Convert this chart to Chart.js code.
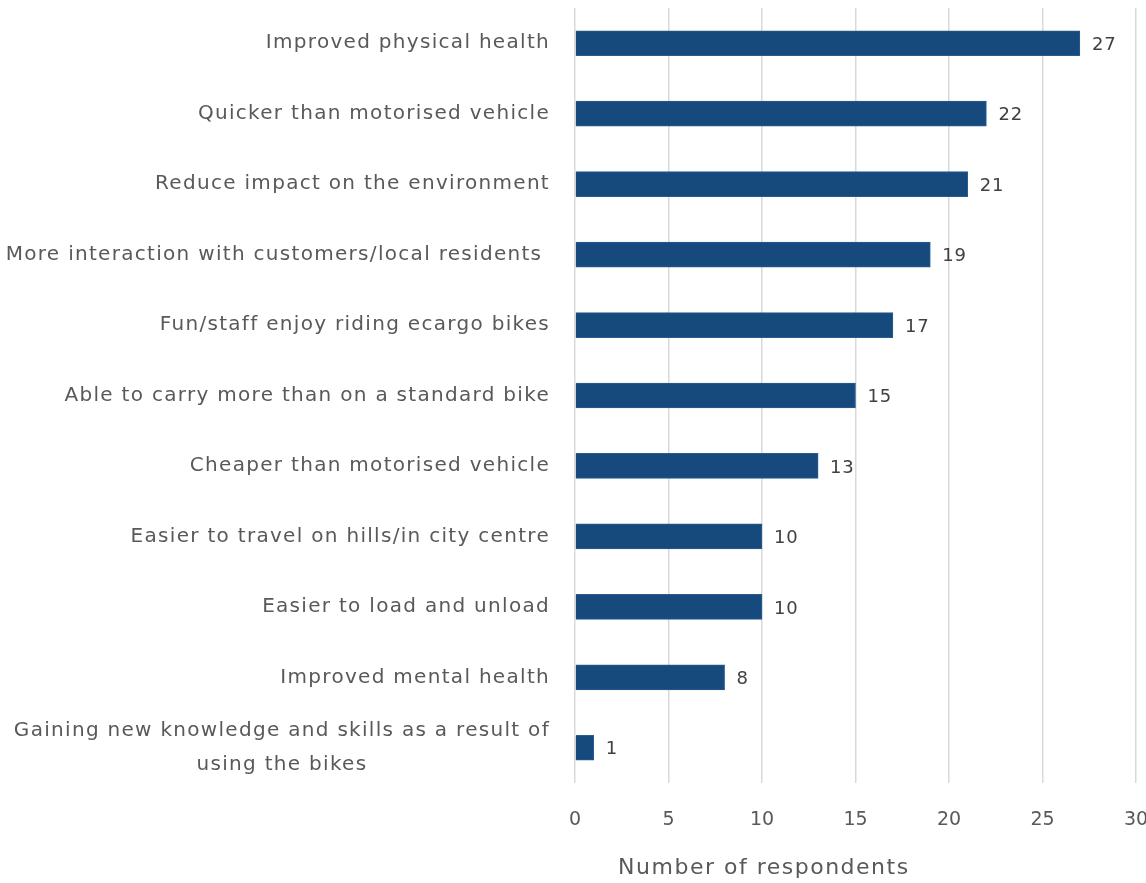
<!DOCTYPE html>
<html>
<head>
<meta charset="utf-8">
<script src="https://cdn.jsdelivr.net/npm/chart.js@4/dist/chart.umd.min.js"></script>
<style>
  html, body { margin: 0; padding: 0; background: #ffffff; overflow: hidden; }
  #wrap { width: 1146px; height: 883px; position: relative; }
</style>
</head>
<body>
<div id="wrap"><canvas id="chart"></canvas></div>
<script>
// Reported benefits of using e-cargo bikes
const categories = [
  'Improved physical health',
  'Quicker than motorised vehicle',
  'Reduce impact on the environment',
  'More interaction with customers/local residents ',
  'Fun/staff enjoy riding ecargo bikes',
  'Able to carry more than on a standard bike',
  'Cheaper than motorised vehicle',
  'Easier to travel on hills/in city centre',
  'Easier to load and unload',
  'Improved mental health',
  ['Gaining new knowledge and skills as a result of', 'using the bikes']
];
const respondents = [27, 22, 21, 19, 17, 15, 13, 10, 10, 8, 1];
const xTicks = [0, 5, 10, 15, 20, 25, 30];
const axisTitle = 'Number of respondents';

const FONT = '"DejaVu Sans", "Open Sans", sans-serif';
const TEXT = '#595959';

// Category labels: single lines right-aligned, wrapped lines centred on each other
const categoryLabels = {
  id: 'categoryLabels',
  afterDraw(chart) {
    const ctx = chart.ctx;
    const y = chart.scales.y;
    const right = chart.chartArea.left - 25;
    ctx.save();
    ctx.font = '20px ' + FONT;
    ctx.letterSpacing = '1.3px';
    ctx.fillStyle = TEXT;
    ctx.textBaseline = 'middle';
    categories.forEach((lab, i) => {
      const cy = y.getPixelForValue(i);
      if (Array.isArray(lab)) {
        const widths = lab.map(t => ctx.measureText(t).width);
        const maxW = Math.max(...widths);
        const cx = right - maxW / 2;
        const lh = 34;
        ctx.textAlign = 'center';
        lab.forEach((t, k) => {
          ctx.fillText(t, cx, cy + (k - (lab.length - 1) / 2) * lh);
        });
      } else {
        ctx.textAlign = 'right';
        ctx.fillText(lab, right, cy);
      }
    });
    ctx.restore();
  }
};

// Value labels at the end of each bar, plus the axis title
const valueLabels = {
  id: 'valueLabels',
  afterDatasetsDraw(chart) {
    const ctx = chart.ctx;
    const meta = chart.getDatasetMeta(0);
    ctx.save();
    ctx.font = '18px ' + FONT;
    ctx.letterSpacing = '0.8px';
    ctx.fillStyle = '#404040';
    ctx.textAlign = 'left';
    ctx.textBaseline = 'middle';
    meta.data.forEach((bar, i) => {
      ctx.fillText(String(respondents[i]), bar.x + 12, bar.y + 2);
    });
    ctx.font = '22px ' + FONT;
    ctx.letterSpacing = '1.5px';
    ctx.fillStyle = TEXT;
    ctx.textAlign = 'center';
    const xs = chart.scales.x;
    ctx.fillText(axisTitle, xs.getPixelForValue(10.1), chart.chartArea.bottom + 85);
    ctx.restore();
  }
};

new Chart(document.getElementById('chart'), {
  type: 'bar',
  data: {
    labels: categories,
    datasets: [{
      data: respondents,
      backgroundColor: '#174a7c',
      borderColor: '#2a5d8f',
      borderWidth: 1,
      barThickness: 25
    }]
  },
  options: {
    indexAxis: 'y',
    responsive: true,
    maintainAspectRatio: false,
    animation: false,
    layout: { padding: { top: 8, right: 10, left: 0, bottom: 0 } },
    plugins: {
      legend: { display: false },
      tooltip: { enabled: false }
    },
    scales: {
      x: {
        min: 0,
        max: 30,
        afterBuildTicks(scale) { scale.ticks = xTicks.map(v => ({ value: v })); },
        afterFit(scale) { scale.height = 100; scale.paddingRight = 0; scale.paddingLeft = 0; },
        grid: { color: '#d9d9d9', lineWidth: 1.5, drawTicks: false },
        border: { display: false },
        ticks: {
          color: TEXT,
          font: { family: FONT, size: 19 },
          padding: 26
        }
      },
      y: {
        afterFit(scale) { scale.width = 575; },
        grid: { display: false },
        border: { display: false },
        ticks: { display: false }
      }
    }
  },
  plugins: [categoryLabels, valueLabels]
});
</script>
</body>
</html>
